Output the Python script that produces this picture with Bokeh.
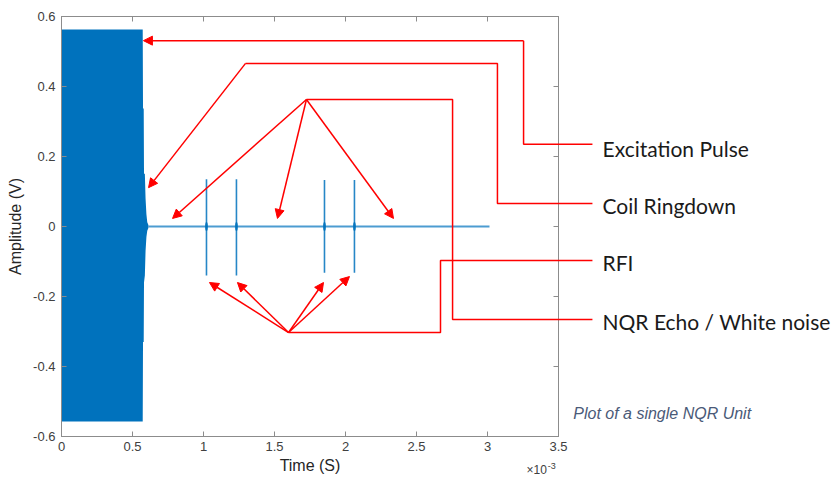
from bokeh.plotting import figure
from bokeh.models import (Range1d, LinearAxis, FixedTicker, CustomJSTickFormatter,
                          Arrow, NormalHead)
from bokeh.core.properties import value
from bokeh.embed import file_html
from bokeh.resources import INLINE

# ---------------- data (time in units of 1e-3 s, amplitude in V) ----------------
pulse_t = [0.0, 0.572, 0.574, 0.579, 0.581, 0.587, 0.592, 0.598, 0.604, 0.612]
pulse_hi = [0.563, 0.563, 0.337, 0.337, 0.151, 0.151, 0.080, 0.035, 0.012, 0.004]
pulse_lo = [-0.557, -0.557, -0.330, -0.330, -0.160, -0.140, -0.070, -0.030, -0.012, -0.004]

baseline_t = [0.612, 3.014]
baseline_v = [0.0, 0.0]

spike_t = [1.021, 1.232, 1.852, 2.063]
spike_hi = [0.135, 0.135, 0.133, 0.133]
spike_lo = [-0.140, -0.140, -0.132, -0.132]

x_ticks = [0, 0.5, 1, 1.5, 2, 2.5, 3, 3.5]
y_ticks = [-0.6, -0.4, -0.2, 0, 0.2, 0.4, 0.6]

labels = ["Excitation Pulse", "Coil Ringdown", "RFI", "NQR Echo / White noise"]
subtitle = "Plot of a single NQR Unit"

# ---------------- styles ----------------
BLUE = "#0072BD"
RED = "#FF0000"
AX = "#8c8c8c"
TXT = "#404040"

p = figure(width=839, height=477, output_backend="svg", toolbar_location=None,
           x_range=Range1d(0, 3.5), y_range=Range1d(-0.6, 0.6),
           min_border_left=61, min_border_right=281, min_border_top=16, min_border_bottom=41,
           x_axis_label="Time (S)", y_axis_label="Amplitude (V)")
p.grid.visible = False
p.outline_line_color = AX
p.background_fill_color = "white"
p.border_fill_color = "white"

fmt = CustomJSTickFormatter(code="return (Math.round(tick*10)/10).toString()")
for ax, ticks in ((p.xaxis[0], x_ticks), (p.yaxis[0], y_ticks)):
    ax.ticker = FixedTicker(ticks=ticks)
    ax.formatter = fmt
    ax.major_tick_in = 5
    ax.major_tick_out = 0
    ax.minor_tick_line_color = None
    ax.axis_line_color = AX
    ax.major_tick_line_color = AX
    ax.major_label_text_font = "Liberation Sans"
    ax.major_label_text_font_size = "13px"
    ax.major_label_text_color = TXT
    ax.axis_label_text_font = "Liberation Sans"
    ax.axis_label_text_font_size = "16px"
    ax.axis_label_text_font_style = "normal"
    ax.axis_label_text_color = "#262626"
p.xaxis[0].major_label_standoff = 5
p.xaxis[0].axis_label_standoff = 3
p.yaxis[0].major_label_standoff = 6
p.yaxis[0].axis_label_standoff = 6

blank = CustomJSTickFormatter(code="return ''")
for loc, ticks in (("above", x_ticks), ("right", y_ticks)):
    a = LinearAxis(ticker=FixedTicker(ticks=ticks), formatter=blank,
                   major_tick_in=5, major_tick_out=0,
                   minor_tick_line_color=None, axis_line_color=AX, major_tick_line_color=AX,
                   major_label_text_font_size="8px", major_label_standoff=0)
    p.add_layout(a, loc)

# ---------------- signal ----------------
p.varea(x=pulse_t, y1=pulse_lo, y2=pulse_hi, fill_color=BLUE)
p.line(baseline_t, baseline_v, line_color=BLUE, line_width=2, line_alpha=0.7)
p.segment(x0=spike_t, y0=spike_lo, x1=spike_t, y1=spike_hi, line_color=BLUE, line_width=1.6, line_alpha=0.85)
p.ellipse(x=spike_t, y=[0] * len(spike_t), width=3, height=9, width_units="screen",
          height_units="screen", fill_color=BLUE, line_color=None, fill_alpha=0.8)

# ---------------- annotations (data coordinates) ----------------
def arrow(x0, y0, x1, y1):
    p.add_layout(Arrow(x_start=x0, y_start=y0, x_end=x1, y_end=y1,
                       end=NormalHead(size=9, fill_color=RED, line_color=RED, line_width=1),
                       line_color=RED, line_width=1.5))

LX = 3.739  # end of leader lines
arrow(3.254, 0.531, 0.577, 0.531)                       # excitation pulse
arrow(1.296, 0.466, 0.613, 0.111)                       # coil ringdown
for tx in (0.782, 1.521, 2.338):                         # NQR echo / white noise
    arrow(1.725, 0.363, tx, 0.023)
for tx, ty in ((1.042, -0.160), (1.239, -0.160), (1.845, -0.160), (2.028, -0.143)):  # RFI
    arrow(1.599, -0.303, tx, ty)

leader_xs = [[3.254, 3.254, 3.254, LX],
             [1.296, 3.070, 3.070, LX],
             [1.725, 2.754, 2.754, LX],
             [1.599, 2.669, 2.669, LX]]
leader_ys = [[0.531, 0.531, 0.235, 0.235],
             [0.466, 0.466, 0.066, 0.066],
             [0.363, 0.363, -0.266, -0.266],
             [-0.303, -0.303, -0.097, -0.097]]
p.multi_line(xs=leader_xs, ys=leader_ys, line_color=RED, line_width=1.5, level="overlay")

p.text(x=[3.810] * 4, y=[0.224, 0.060, -0.104, -0.270], text=labels,
       text_font=value("Lato"), text_font_size="21px", text_color="#1a1a1a",
       text_baseline="middle", level="overlay")
p.text(x=[3.604], y=[-0.534], text=[subtitle], text_font=value("Liberation Sans"),
       text_font_style="italic", text_font_size="16px", text_color="#4a5a78",
       text_baseline="middle", level="overlay")
p.text(x=[3.275], y=[-0.697], text=["×10"], text_font=value("Liberation Sans"),
       text_font_size="12px", text_color=TXT, text_baseline="middle", level="overlay")
p.text(x=[3.425], y=[-0.683], text=["-3"], text_font=value("Liberation Sans"),
       text_font_size="9px", text_color=TXT, text_baseline="middle", level="overlay")

open("out.html", "w").write(file_html(p, INLINE))
